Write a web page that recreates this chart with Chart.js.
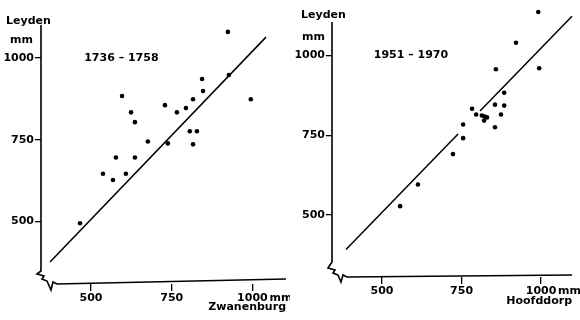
<!DOCTYPE html>
<html>
<head>
<meta charset="utf-8">
<script src="https://cdn.jsdelivr.net/npm/chart.js@4"></script>
<style>
  html, body { margin: 0; padding: 0; background: #fff; }
  #wrap { position: relative; width: 580px; height: 320px; }
  .box { position: absolute; top: 0; width: 290px; height: 320px; }
</style>
</head>
<body>
<div id="wrap">
  <div class="box" style="left:0"><canvas id="zwanenburg"></canvas></div>
  <div class="box" style="left:290px"><canvas id="hoofddorp"></canvas></div>
</div>
<script>
/* Leyden rainfall vs. neighbouring stations, mm per year */

var xTicks = [500, 750, 1000];
var yTicks = [500, 750, 1000];

/* 1736 - 1758 : Zwanenburg (x) vs Leyden (y) */
var zwanX = [924, 927, 995, 844, 847, 816, 794, 766, 729, 596, 624, 636,
             676, 738, 806, 828, 816, 577, 636, 537, 568, 608, 466];
var zwanY = [1080, 948, 874, 936, 899, 874, 847, 834, 856, 884, 834, 804,
             745, 739, 776, 776, 736, 696, 696, 646, 627, 646, 495];
var zwanLine = [[373, 376], [1042, 1064]];

/* 1951 - 1970 : Hoofddorp (x) vs Leyden (y) */
var hoofX = [991, 921, 994, 858, 884, 855, 884, 783, 796, 814, 830, 821,
             874, 855, 755, 755, 723, 613, 557, 822];
var hoofY = [1136, 1040, 960, 957, 883, 846, 843, 833, 815, 812, 806, 796,
             815, 775, 784, 741, 691, 596, 528, 809];
var hoofLineA = [[387, 392], [739, 754]];
var hoofLineB = [[808, 826], [1097, 1123]];

var FONT = "DejaVu Sans";

function pts(xs, ys) {
  return xs.map(function (x, i) { return { x: x, y: ys[i] }; });
}
function seg(a) {
  return a.map(function (p) { return { x: p[0], y: p[1] }; });
}

/* axes with the broken corner, labels etc. */
var decor = {
  id: "decor",
  afterDraw: function (chart, args, o) {
    var c = chart.ctx, a = chart.chartArea;
    var L = a.left, B = a.bottom;
    var ys = chart.scales.y, xs = chart.scales.x;
    c.save();
    c.strokeStyle = "#000";
    c.lineWidth = 1.6;
    c.beginPath();
    c.moveTo(L, ys.getPixelForValue(o.axisTop));
    o.zig.forEach(function (p) { c.lineTo(L + p[0], B + p[1]); });
    c.lineTo(xs.getPixelForValue(o.axisRight), B - o.xSlope);
    c.stroke();

    c.fillStyle = "#000";
    c.font = "bold 11px '" + FONT + "'";
    c.textBaseline = "middle";
    c.textAlign = "left";
    c.fillText("Leyden", o.leyden[0], o.leyden[1]);
    c.fillText("mm", o.mm[0], o.mm[1]);

    /* unit after the last x tick */
    var px = xs.getPixelForValue(xTicks[xTicks.length - 1]);
    c.textBaseline = "top";
    c.fillText("mm", px + 17, B + 9);

    /* period */
    c.textAlign = "center";
    c.textBaseline = "middle";
    c.fillText(o.period, xs.getPixelForValue(o.periodAt[0]),
               ys.getPixelForValue(o.periodAt[1]));
    c.restore();
  }
};

function makeChart(id, scatter, lines, cfg) {
  var datasets = [{
    type: "scatter",
    data: scatter,
    pointRadius: 2.3,
    pointBackgroundColor: "#000",
    pointBorderWidth: 0,
    clip: false
  }];
  lines.forEach(function (l) {
    datasets.push({
      type: "line",
      data: l,
      borderColor: "#000",
      borderWidth: 1.5,
      pointRadius: 0,
      fill: false,
      clip: false
    });
  });

  var tickFont = { family: FONT, size: 11, weight: "bold" };
  var plain = function (v) { return String(v); };

  return new Chart(document.getElementById(id), {
    type: "scatter",
    data: { datasets: datasets },
    options: {
      responsive: false,
      animation: false,
      events: [],
      layout: { padding: { top: cfg.top, right: cfg.right, left: 0, bottom: 0 } },
      plugins: {
        legend: { display: false },
        tooltip: { enabled: false },
        decor: cfg.decor
      },
      scales: {
        x: {
          type: "linear",
          min: cfg.xMin, max: cfg.xMax,
          afterBuildTicks: function (s) { s.ticks = xTicks.map(function (v) { return { value: v }; }); },
          afterFit: function (s) { s.height = cfg.xHeight; },
          border: { display: false },
          grid: { display: true, drawOnChartArea: false, color: "#000", lineWidth: 1.3, tickLength: 7 },
          ticks: { color: "#000", font: tickFont, padding: 1, maxRotation: 0, autoSkip: false, callback: plain },
          title: {
            display: true, text: cfg.xTitle, align: "end", color: "#000",
            font: { family: FONT, size: 11, weight: "bold" },
            padding: { top: 0, bottom: cfg.titlePad }
          }
        },
        y: {
          type: "linear",
          min: cfg.yMin, max: cfg.yMax,
          afterBuildTicks: function (s) { s.ticks = yTicks.map(function (v) { return { value: v }; }); },
          afterFit: function (s) { s.width = cfg.yWidth; },
          border: { display: false },
          grid: { display: true, drawOnChartArea: false, color: "#000", lineWidth: 1.3, tickLength: 6 },
          ticks: { color: "#000", font: tickFont, padding: 1, autoSkip: false, callback: plain }
        }
      }
    },
    plugins: [decor]
  });
}

function sizeCanvas(id) {
  var el = document.getElementById(id);
  el.width = 290; el.height = 320;
  el.style.width = "290px"; el.style.height = "320px";
}
sizeCanvas("zwanenburg");
sizeCanvas("hoofddorp");

/* chart area reaches a bit above the drawn axis so high points are not cut */
makeChart("zwanenburg", pts(zwanX, zwanY), [seg(zwanLine)], {
  top: 9, right: 4, yWidth: 41, xHeight: 36, titlePad: 6,
  xMin: 345, xMax: 1104, yMin: 309, yMax: 1150,
  xTitle: "Zwanenburg",
  decor: {
    period: "1736 \u2013 1758", periodAt: [594, 1000],
    leyden: [6, 21], mm: [10, 40], axisTop: 1101, axisRight: 1104, xSlope: 5,
    zig: [[0, -13], [-4, -10], [3, -8], [1, -5], [6, -3], [10, 6], [12, -2], [16, 0]]
  }
});

makeChart("hoofddorp", pts(hoofX, hoofY), [seg(hoofLineA), seg(hoofLineB)], {
  top: 3, right: 8, yWidth: 42, xHeight: 43, titlePad: 12,
  xMin: 343, xMax: 1097, yMin: 306, yMax: 1150,
  xTitle: "Hoofddorp",
  decor: {
    period: "1951 \u2013 1970", periodAt: [591, 1000],
    leyden: [11, 15], mm: [12, 37], axisTop: 1105, axisRight: 1097, xSlope: 2,
    zig: [[0, -15], [-4, -9], [3, -7], [1, -4], [6, -2], [9, 5], [11, -2], [15, 0]]
  }
});
</script>
</body>
</html>
